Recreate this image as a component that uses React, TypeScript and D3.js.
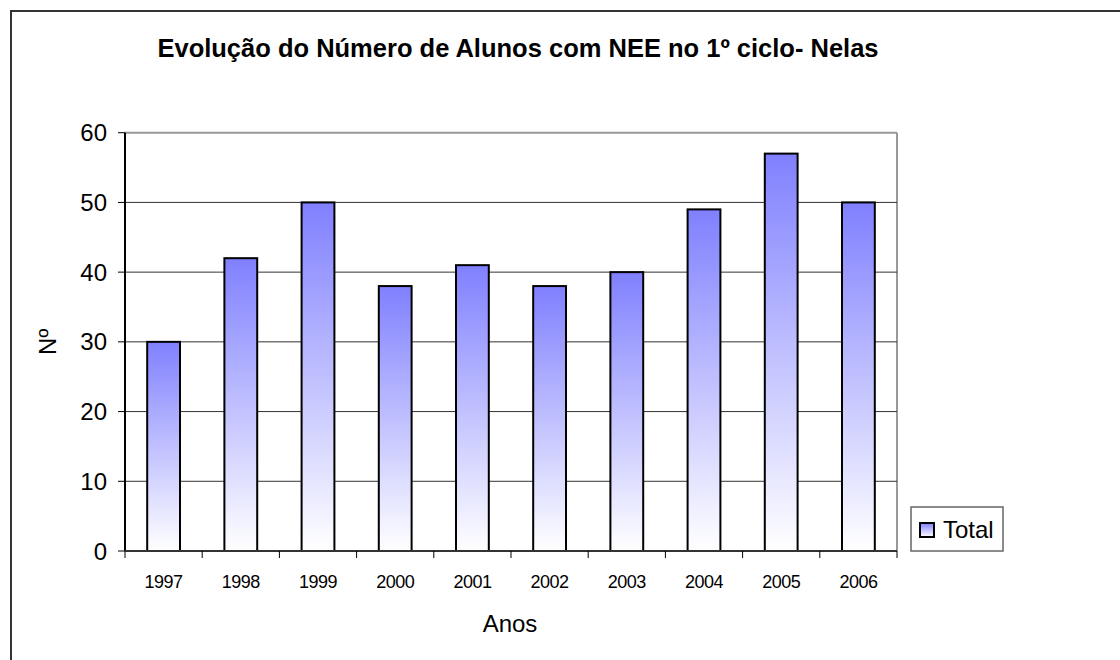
import React from "react";
import * as d3 from "d3";

const categories = ["1997", "1998", "1999", "2000", "2001", "2002", "2003", "2004", "2005", "2006"];
const totals = [30, 42, 50, 38, 41, 38, 40, 49, 57, 50];
const yTicks = [0, 10, 20, 30, 40, 50, 60];
const seriesName = "Total";
const title = "Evolução do Número de Alunos com NEE no 1º ciclo- Nelas";
const xTitle = "Anos";
const yTitle = "Nº";

const W = 1120;
const H = 660;
const plot = { left: 125, right: 897, top: 132.7, bottom: 551 };
const font = "'Liberation Sans', Arial, sans-serif";

export default function App() {
  const x = d3
    .scaleBand<string>()
    .domain(categories)
    .range([plot.left, plot.right])
    .paddingInner(0)
    .paddingOuter(0);
  const y = d3.scaleLinear().domain([0, 60]).range([plot.bottom, plot.top]);
  const bw = x.bandwidth() * 0.425;

  return (
    <svg
      width={W}
      height={H}
      style={{ position: "absolute", left: 0, top: 0, background: "#fff" }}
      fontFamily={font}
    >
      <defs>
        <linearGradient id="barGrad" x1="0" y1="0" x2="0" y2="1">
          <stop offset="0" stopColor="#8080ff" />
          <stop offset="1" stopColor="#ffffff" />
        </linearGradient>
      </defs>
      <rect x={0} y={0} width={W} height={H} fill="#fff" />
      {/* outer chart border */}
      <rect x={11} y={11} width={W + 20} height={H + 20} fill="none" stroke="#333" strokeWidth={2} />

      <text x={518} y={57} textAnchor="middle" fontSize={25.5} fontWeight="bold" fill="#000">
        {title}
      </text>

      {/* plot area border top & right */}
      <line x1={plot.left} x2={plot.right} y1={plot.top} y2={plot.top} stroke="#999" strokeWidth={2} />
      <line x1={plot.right} x2={plot.right} y1={plot.top} y2={plot.bottom} stroke="#999" strokeWidth={2} />

      {/* gridlines */}
      {yTicks
        .filter((t) => t > 0 && t < 60)
        .map((t) => (
          <line key={t} x1={plot.left} x2={plot.right} y1={y(t)} y2={y(t)} stroke="#333" strokeWidth={1} />
        ))}

      {/* bars */}
      {categories.map((c, i) => {
        const cx = (x(c) as number) + x.bandwidth() / 2;
        return (
          <rect
            key={c}
            x={cx - bw / 2}
            y={y(totals[i])}
            width={bw}
            height={y(0) - y(totals[i])}
            fill="url(#barGrad)"
            stroke="#000"
            strokeWidth={2}
          />
        );
      })}

      {/* axes */}
      <line x1={plot.left} x2={plot.left} y1={plot.top} y2={plot.bottom} stroke="#000" strokeWidth={2} />
      <line x1={plot.left} x2={plot.right} y1={plot.bottom} y2={plot.bottom} stroke="#333" strokeWidth={2} />

      {yTicks.map((t) => (
        <g key={t}>
          <line x1={plot.left - 7} x2={plot.left} y1={y(t)} y2={y(t)} stroke="#000" strokeWidth={1} />
          <text x={107} y={y(t)} dy="0.36em" textAnchor="end" fontSize={24} fill="#000">
            {t}
          </text>
        </g>
      ))}

      {categories.map((c) => (
        <line
          key={"t" + c}
          x1={x(c) as number}
          x2={x(c) as number}
          y1={plot.bottom}
          y2={plot.bottom + 7}
          stroke="#000"
          strokeWidth={1}
        />
      ))}
      <line x1={plot.right} x2={plot.right} y1={plot.bottom} y2={plot.bottom + 7} stroke="#000" strokeWidth={1} />

      {categories.map((c) => (
        <text
          key={"l" + c}
          x={(x(c) as number) + x.bandwidth() / 2}
          y={588}
          textAnchor="middle"
          fontSize={18}
          letterSpacing={-0.5}
          fill="#000"
        >
          {c}
        </text>
      ))}

      <text x={510} y={632} textAnchor="middle" fontSize={24} fill="#000">
        {xTitle}
      </text>
      <text
        transform={`translate(56,${y(30)}) rotate(-90)`}
        textAnchor="middle"
        fontSize={24}
        fill="#000"
      >
        {yTitle}
      </text>

      {/* legend */}
      <rect x={911} y={507} width={92} height={44} fill="#fff" stroke="#666" strokeWidth={1.5} />
      <rect x={920} y={523} width={14} height={14} fill="url(#barGrad)" stroke="#000" strokeWidth={2} />
      <text x={943} y={538} fontSize={24} fill="#000">
        {seriesName}
      </text>
    </svg>
  );
}
